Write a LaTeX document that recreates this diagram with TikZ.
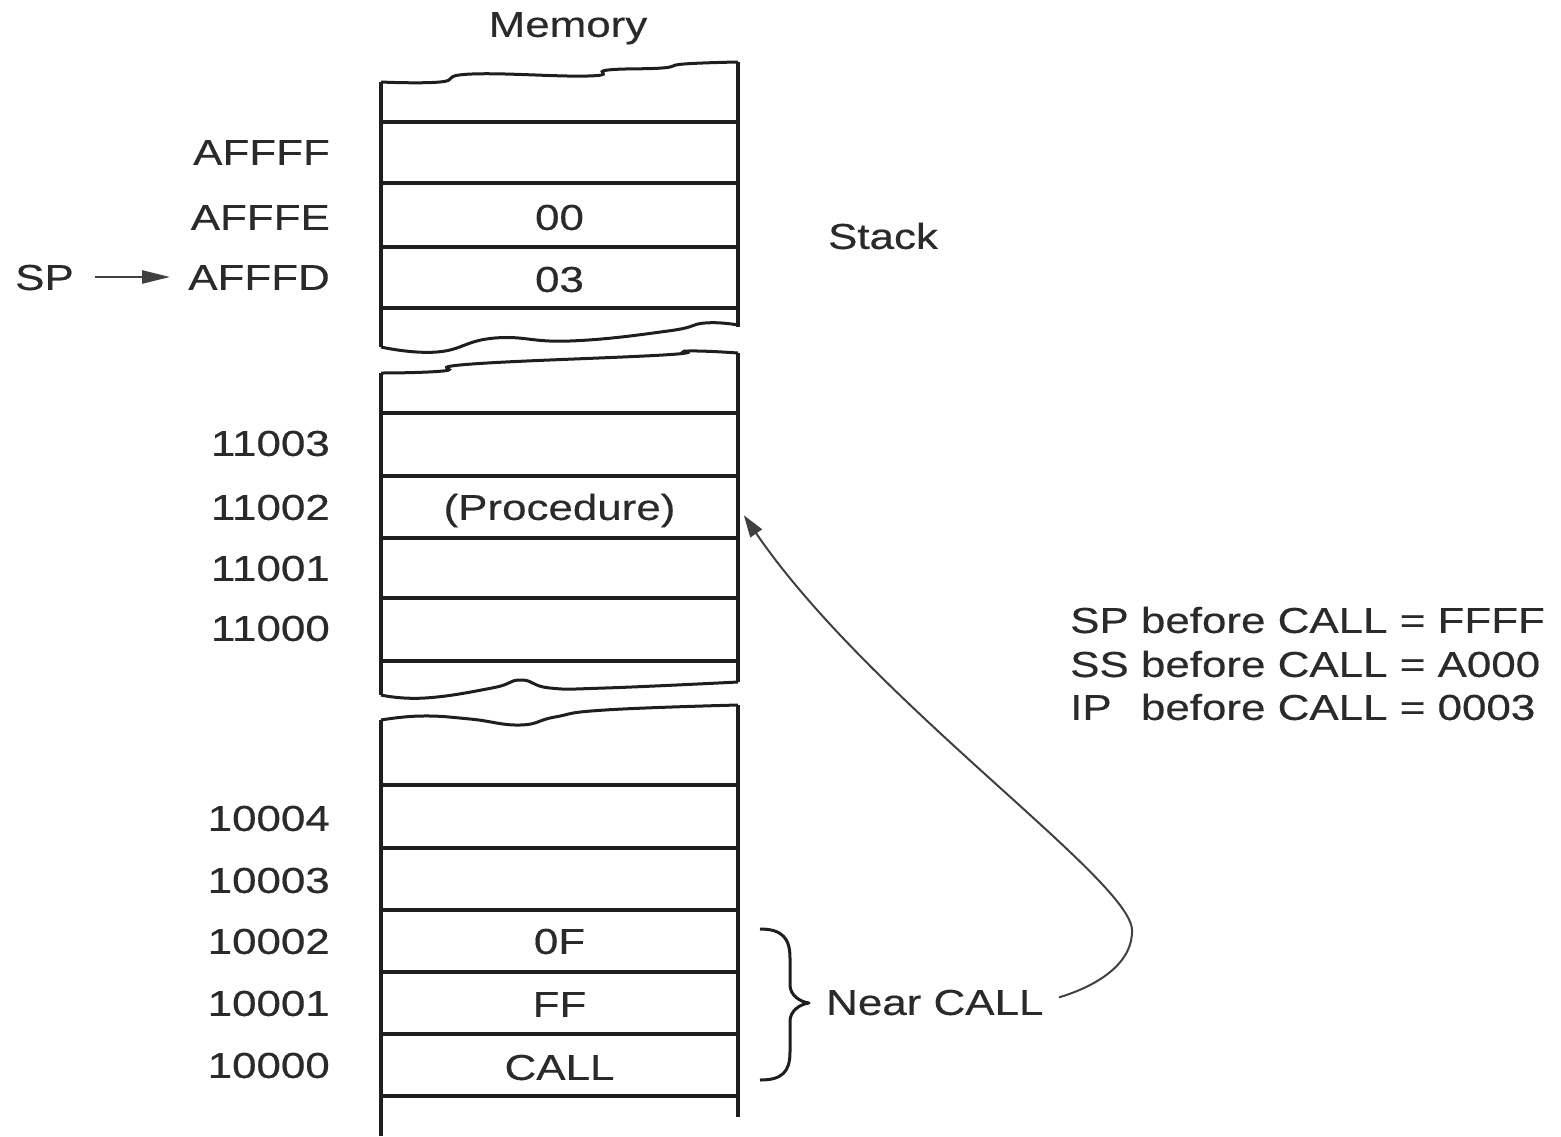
\documentclass[tikz,border=0pt]{standalone}
\usepackage{fontspec}
\setmainfont{Liberation Sans}[FakeStretch=1.22, FakeBold=0.4]
\usetikzlibrary{arrows.meta}
\definecolor{ink}{HTML}{1E1E1E}
\definecolor{txt}{HTML}{2A2A2A}
\begin{document}
\begin{tikzpicture}[x=1pt,y=-1pt,
  every node/.style={font=\fontsize{36}{43}\selectfont, text=txt, inner sep=0pt, text height=25.8pt, text depth=0pt},
  box/.style={draw=ink, line width=3.5pt},
  wave/.style={draw=ink, line width=3pt},
  cell/.style={minimum width=357pt, minimum height=60pt},
  addr/.style={anchor=east},
  curvearrow/.style={draw=ink!85, line width=2pt, -{Triangle[length=22pt,width=14pt]}},
  sparrow/.style={draw=ink!85, line width=2.5pt, -{Triangle[length=28pt,width=13pt]}}
]
\useasboundingbox (0,0) rectangle (1561,1136);

% ---------- block 1 (stack) ----------
\draw[wave] plot[smooth, tension=0.8] coordinates {(381,82) (440,82) (472,74) (588,76) (608,70) (662,68) (684,64) (738,62)};
\draw[wave] plot[smooth, tension=0.8] coordinates {(381,347) (437,352) (495,338) (570,341) (668,331) (705,323) (738,325)};
\draw[box] (381,82) -- (381,347);
\draw[box] (738,62) -- (738,327);
\foreach \y in {122,183,247,308} \draw[box] (381,\y) -- (738,\y);

% ---------- block 2 (procedure) ----------
\draw[wave] plot[smooth, tension=0.8] coordinates {(381,373) (443,371) (472,364) (663,355) (688,351) (738,353)};
\draw[wave] plot[smooth, tension=0.8] coordinates {(381,695) (425,698) (492,688) (521,680) (550,688) (605,688) (738,682)};
\draw[box] (381,373) -- (381,695);
\draw[box] (738,353) -- (738,682);
\foreach \y in {413,476,538,598,661} \draw[box] (381,\y) -- (738,\y);

% ---------- block 3 (program) ----------
\draw[wave] plot[smooth, tension=0.8] coordinates {(381,720) (422,716) (470,719) (520,725) (555,717) (605,710) (738,705)};
\draw[box] (381,720) -- (381,1136);
\draw[box] (738,705) -- (738,1117);
\foreach \y in {785,848,910,972,1034,1096} \draw[box] (381,\y) -- (738,\y);

% ---------- cell contents ----------
\node[cell] (c00)   at (559.5,217) {00};
\node[cell] (c03)   at (559.5,279) {03};
\node[cell] (proc)  at (559.5,507) {(Procedure)};
\node[cell] (c0F)   at (559.5,941) {0F};
\node[cell] (cFF)   at (559.5,1004) {FF};
\node[cell] (cCALL) at (559.5,1067) {CALL};

% ---------- addresses ----------
\node[addr] (aFFFF) at (330,152) {AFFFF};
\node[addr] (aFFFE) at (330,217) {AFFFE};
\node[addr] (aFFFD) at (330,277) {AFFFD};
\node[addr] (a11003) at (330,443) {11003};
\node[addr] (a11002) at (330,507) {11002};
\node[addr] (a11001) at (330,568) {11001};
\node[addr] (a11000) at (330,628) {11000};
\node[addr] (a10004) at (330,818) {10004};
\node[addr] (a10003) at (330,880) {10003};
\node[addr] (a10002) at (330,941) {10002};
\node[addr] (a10001) at (330,1003) {10001};
\node[addr] (a10000) at (330,1065) {10000};

% ---------- labels ----------
\node (mem) at (568,24) {Memory};
\node (stack) at (883,236) {Stack};
\node[anchor=west] (sp) at (15,277) {SP};
\draw[sparrow, shorten <=21pt, shorten >=18pt] (sp.east) -- (aFFFD.west);

\node[anchor=west] (near) at (826,1002) {Near CALL};
\node[anchor=west] (l1) at (1070,620) {SP before CALL = FFFF};
\node[anchor=west] (l2) at (1070,664) {SS before CALL = A000};
\node[anchor=west] (l3) at (1070,707) {\rlap{IP}\phantom{SP} before CALL = 0003};

% ---------- brace ----------
\draw[draw=ink, line width=3pt, line join=round]
  (760,929) .. controls (782,929) and (790,938) .. (790,958)
  -- (790,985) .. controls (790,995) and (800,1002) .. (809,1003)
  .. controls (800,1004) and (790,1011) .. (790,1021)
  -- (790,1052) .. controls (790,1072) and (782,1080) .. (760,1080);

% ---------- call arrow ----------
\draw[curvearrow, shorten <=16pt, shorten >=10pt]
  (near.east) .. controls (1100,985) and (1133,962) .. (1132,930)
  .. controls (1131,880) and (870,700) .. (proc.east);
\end{tikzpicture}
\end{document}
